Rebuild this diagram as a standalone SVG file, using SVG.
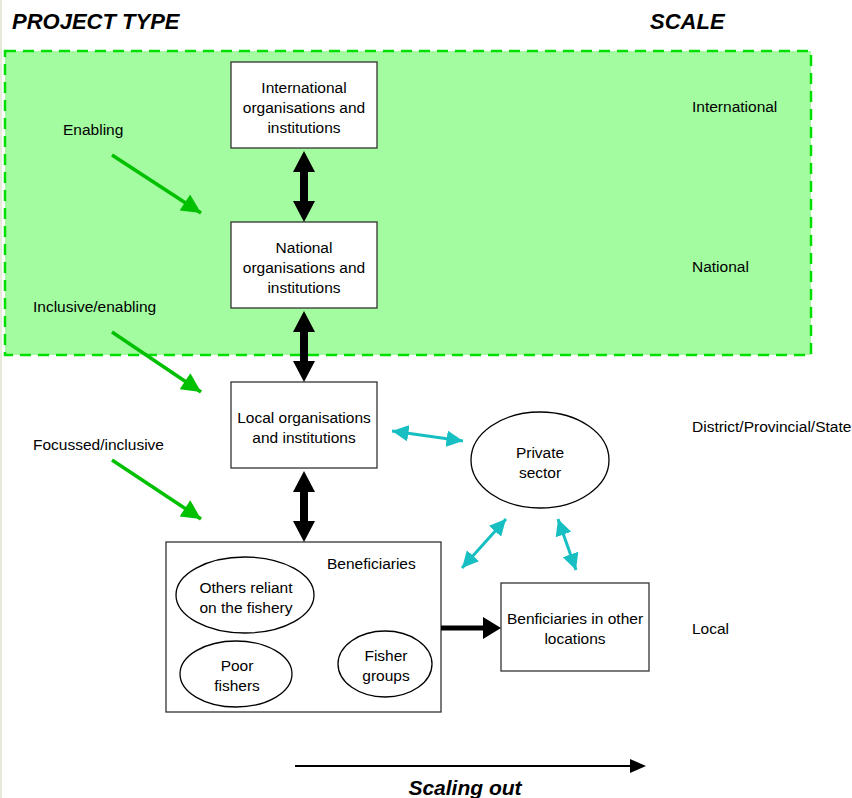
<svg xmlns="http://www.w3.org/2000/svg" width="852" height="798" viewBox="0 0 852 798">
<defs>
<style>
.t{font-family:"Liberation Sans",Arial,sans-serif;font-size:15.5px;fill:#000}
.c{text-anchor:middle}
.h{font-family:"Liberation Sans",Arial,sans-serif;font-weight:bold;font-style:italic;font-size:22px;fill:#000}
.box{fill:#fff;stroke:#333;stroke-width:1.3}
.ell{fill:#fff;stroke:#000;stroke-width:1.3}
.g{stroke:#00c000;stroke-width:3.5;fill:none}
.cy{stroke:#17bfc2;stroke-width:3;fill:none}
</style>
<marker id="ga" viewBox="0 0 10 10" refX="10" refY="5" markerWidth="6" markerHeight="5.5" markerUnits="strokeWidth" orient="auto"><path d="M0,0 L10,5 L0,10 z" fill="#00c000"/></marker>
<marker id="ca" viewBox="0 0 10 10" refX="10" refY="5" markerWidth="5.5" markerHeight="5.5" markerUnits="strokeWidth" orient="auto-start-reverse"><path d="M0,0 L10,5 L0,10 z" fill="#17bfc2"/></marker>
</defs>
<rect x="0" y="0" width="852" height="798" fill="#fff"/>
<line x1="1" y1="0" x2="1" y2="798" stroke="#e6eadb" stroke-width="2"/>
<rect id="zone" x="5" y="51" width="806" height="304" fill="#a3fca0" stroke="#00e000" stroke-width="2.5" stroke-dasharray="11,7"/>

<text class="h" x="12" y="29">PROJECT TYPE</text>
<text class="h" x="650" y="29">SCALE</text>

<g id="labels-left">
<text class="t" x="63" y="135">Enabling</text>
<text class="t" x="33" y="312">Inclusive/enabling</text>
<text class="t" x="33" y="450">Focussed/inclusive</text>
</g>
<g id="labels-right">
<text class="t" x="692" y="112">International</text>
<text class="t" x="692" y="272">National</text>
<text class="t" x="692" y="432">District/Provincial/State</text>
<text class="t" x="692" y="634">Local</text>
</g>

<g id="n-international">
<rect class="box" x="231" y="62" width="146" height="86"/>
<text class="t c" x="304" y="93">International</text>
<text class="t c" x="304" y="113">organisations and</text>
<text class="t c" x="304" y="133">institutions</text>
</g>
<g id="n-national">
<rect class="box" x="231" y="222" width="146" height="86"/>
<text class="t c" x="304" y="253">National</text>
<text class="t c" x="304" y="273">organisations and</text>
<text class="t c" x="304" y="293">institutions</text>
</g>
<g id="n-local">
<rect class="box" x="231" y="382" width="146" height="86"/>
<text class="t c" x="304" y="423">Local organisations</text>
<text class="t c" x="304" y="443">and institutions</text>
</g>
<g id="n-private">
<ellipse class="ell" cx="540" cy="460" rx="69" ry="48"/>
<text class="t c" x="540" y="458">Private</text>
<text class="t c" x="540" y="478">sector</text>
</g>
<g id="n-beneficiaries">
<rect class="box" x="166" y="542" width="275" height="170"/>
<text class="t" x="327" y="569">Beneficiaries</text>
</g>
<g id="n-others">
<ellipse class="ell" cx="245" cy="595" rx="69" ry="38"/>
<text class="t c" x="246" y="593">Others reliant</text>
<text class="t c" x="246" y="613">on the fishery</text>
</g>
<g id="n-poor">
<ellipse class="ell" cx="236" cy="674" rx="56" ry="33"/>
<text class="t c" x="237" y="671">Poor</text>
<text class="t c" x="237" y="691">fishers</text>
</g>
<g id="n-groups">
<ellipse class="ell" cx="385" cy="664" rx="47" ry="33"/>
<text class="t c" x="386" y="661">Fisher</text>
<text class="t c" x="386" y="681">groups</text>
</g>
<g id="n-other-locations">
<rect class="box" x="501" y="583" width="148" height="88"/>
<text class="t c" x="575" y="624">Benficiaries in other</text>
<text class="t c" x="575" y="644">locations</text>
</g>

<g id="connectors">
<line class="g" x1="112" y1="155" x2="201" y2="213" marker-end="url(#ga)"/>
<line class="g" x1="112" y1="332" x2="201" y2="392" marker-end="url(#ga)"/>
<line class="g" x1="112" y1="460" x2="201" y2="519" marker-end="url(#ga)"/>

<path d="M304,151 L315,172 L308,172 L308,201 L315,201 L304,222 L293,201 L300,201 L300,172 L293,172 Z" fill="#000"/>
<path d="M304,311 L315,332 L308,332 L308,361 L315,361 L304,382 L293,361 L300,361 L300,332 L293,332 Z" fill="#000"/>
<path d="M304,471 L315,492 L308,492 L308,521 L315,521 L304,542 L293,521 L300,521 L300,492 L293,492 Z" fill="#000"/>

<path d="M441,625.5 L483,625.5 L483,617 L501,628 L483,639 L483,630.5 L441,630.5 Z" fill="#000"/>

<line class="cy" x1="392" y1="431" x2="463" y2="441" marker-start="url(#ca)" marker-end="url(#ca)"/>
<line class="cy" x1="462" y1="568" x2="506" y2="519" marker-start="url(#ca)" marker-end="url(#ca)"/>
<line class="cy" x1="558" y1="519" x2="576" y2="570" marker-start="url(#ca)" marker-end="url(#ca)"/>

<line x1="295" y1="766" x2="632" y2="766" stroke="#000" stroke-width="2"/>
<path d="M630,759 L646,766 L630,773 Z" fill="#000"/>
</g>
<text class="h" x="465" y="795" text-anchor="middle" style="font-size:21px">Scaling out</text>
</svg>
